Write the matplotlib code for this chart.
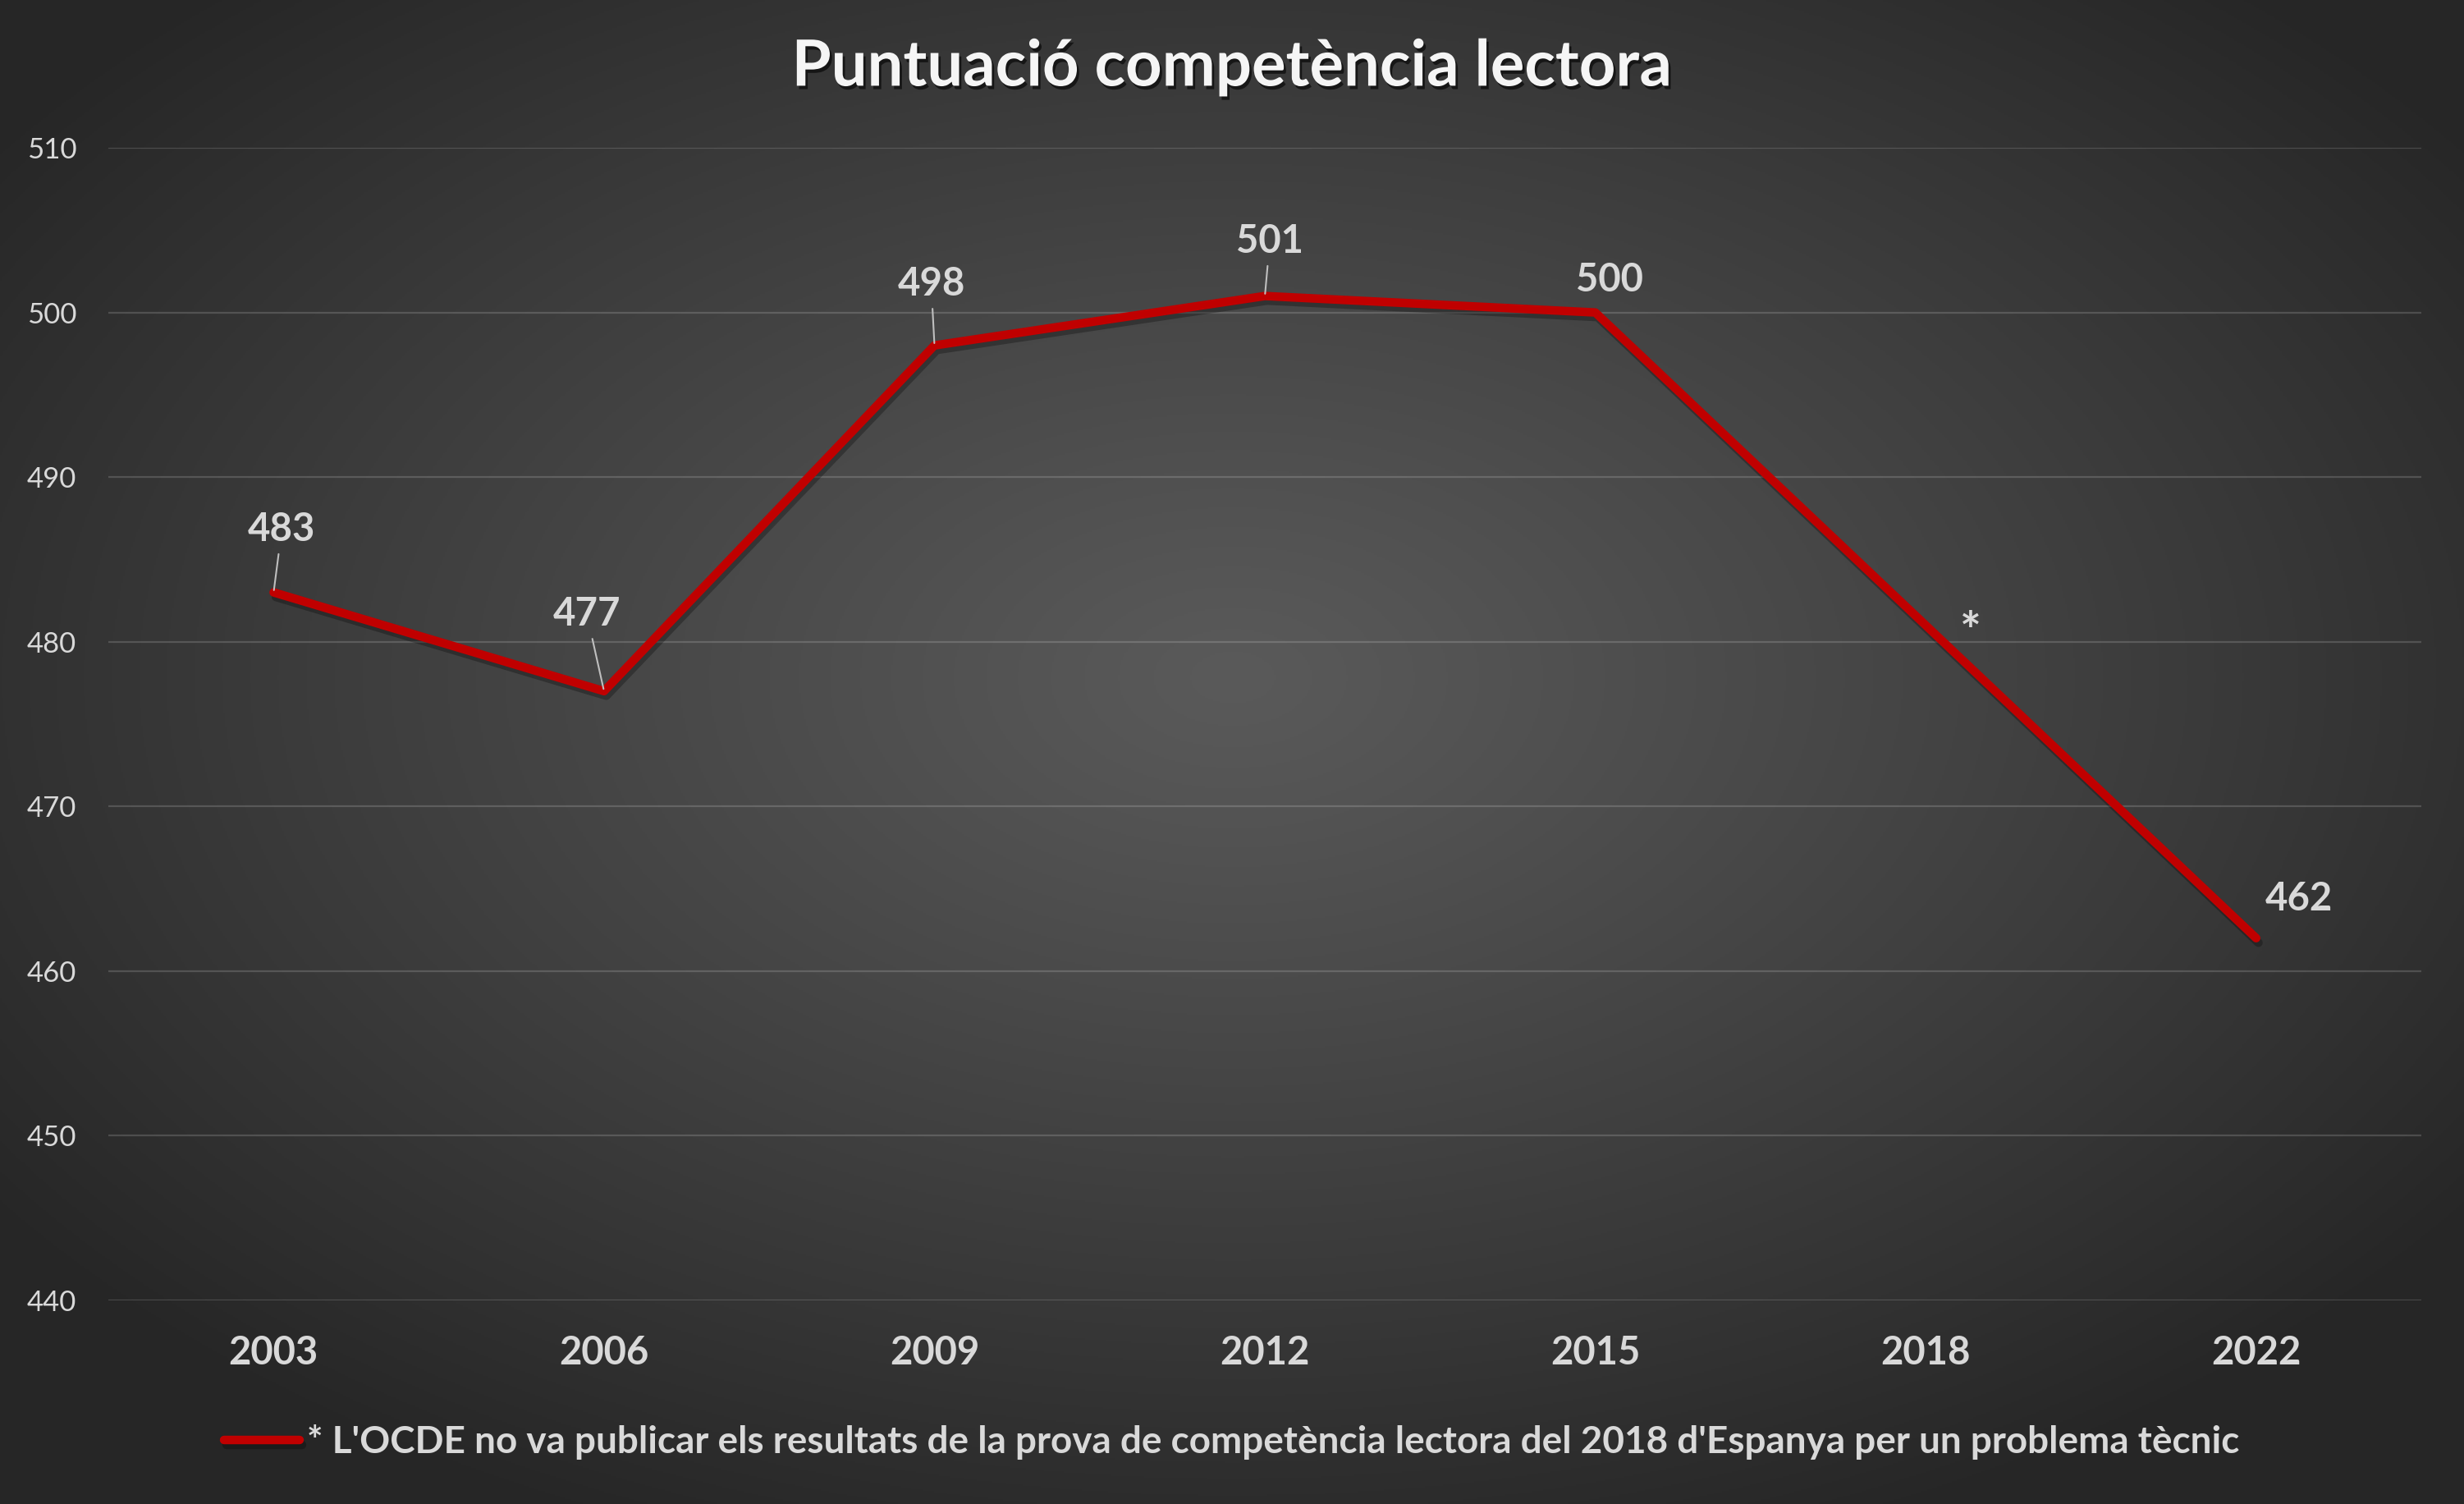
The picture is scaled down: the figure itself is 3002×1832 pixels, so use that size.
import numpy as np
import matplotlib
matplotlib.use("Agg")
import matplotlib.pyplot as plt
import matplotlib.patheffects as pe

plt.rcParams['font.family'] = ['Lato', 'DejaVu Sans']

# data
years = ["2003", "2006", "2009", "2012", "2015", "2018", "2022"]
scores = [483, 477, 498, 501, 500, np.nan, 462]   # 2018 not published
y_ticks = [440, 450, 460, 470, 480, 490, 500, 510]
title = "Puntuació competència lectora"
note = "* L'OCDE no va publicar els resultats de la prova de competència lectora del 2018 d'Espanya per un problema tècnic"

# label offsets in pixels (dx, dy) and whether a leader line is drawn
label_offsets = [(10, 77), (-21, 94), (-4, 75), (6, 67), (17, 40), None, (52, 48)]
leaders = [True, True, True, True, False, False, False]

TXT = '#d9d9d9'
RED = '#c00000'

fig = plt.figure(figsize=(30.02, 18.32), dpi=100)

# radial gradient background
bg = fig.add_axes([0, 0, 1, 1], zorder=-10)
h, w = 916, 1501
yy, xx = np.mgrid[0:h, 0:w]
cx, cy = w * 0.50, h * 0.45
r = np.sqrt(((xx - cx) / (w * 0.62)) ** 2 + ((yy - cy) / (h * 0.62)) ** 2)
r = np.clip(r, 0, 1)
c_in, c_out = 0x5a / 255, 0x26 / 255
img = c_in + (c_out - c_in) * r ** 1.1
bg.imshow(np.dstack([img, img, img]), aspect='auto', extent=[0, 1, 0, 1])
bg.set_axis_off()

ax = fig.add_axes([0.044, 0.1354, 0.9387, 0.7663])
ax.set_facecolor('none')

x = np.arange(len(years))
vals = np.array(scores, dtype=float)
ok = ~np.isnan(vals)

ax.plot(x[ok], vals[ok], color=RED, lw=7.5, solid_capstyle='round',
        solid_joinstyle='round', zorder=3,
        path_effects=[pe.SimpleLineShadow(offset=(2, -4), shadow_color='black', alpha=0.28),
                      pe.Normal()])

ax.set_xlim(-0.5, len(years) - 0.5)
ax.set_ylim(440, 510)
ax.set_yticks(y_ticks)
ax.set_xticks(x)
ax.set_xticklabels(years)

for s in ['top', 'bottom', 'left', 'right']:
    ax.spines[s].set_visible(False)
ax.tick_params(axis='both', length=0)
ax.tick_params(axis='y', labelsize=25, labelcolor=TXT, pad=28)
ax.tick_params(axis='x', labelsize=34, labelcolor=TXT, pad=30)
for t in ax.get_xticklabels():
    t.set_fontweight('bold')
ax.grid(axis='y', color='white', alpha=0.16, lw=1.6)
ax.set_axisbelow(True)

# data labels
for i, v in enumerate(vals):
    if np.isnan(v):
        continue
    dx, dy = label_offsets[i]
    props = None
    if leaders[i]:
        props = dict(arrowstyle='-', color='#bfbfbf', lw=1.5, shrinkA=4, shrinkB=2)
    ax.annotate(f"{int(v)}", xy=(i, v), xytext=(dx, dy), textcoords='offset pixels',
                ha='center', va='center', fontsize=34, fontweight='bold', color=TXT,
                arrowprops=props, zorder=4)

# asterisk for the missing 2018 value
i18 = years.index("2018")
y18 = np.interp(i18, x[ok], vals[ok])
ax.annotate("*", xy=(i18, y18), xytext=(55, -10), textcoords='offset pixels',
            ha='center', va='center', fontsize=44, fontweight='bold', color=TXT)

fig.text(0.5, 0.955, title, ha='center', va='center', fontsize=56, fontweight='bold',
         color='#f5f5f5',
         path_effects=[pe.SimplePatchShadow(offset=(2, -3), shadow_rgbFace='black', alpha=0.6),
                       pe.Normal()])

leg = fig.legend([ax.lines[0]], [note], loc='center', bbox_to_anchor=(0.5, 0.041),
                 frameon=False, handlelength=2.0, handletextpad=0.2,
                 prop=dict(size=33, weight='bold'), labelcolor=TXT)

fig.savefig("out.png", dpi=100)
